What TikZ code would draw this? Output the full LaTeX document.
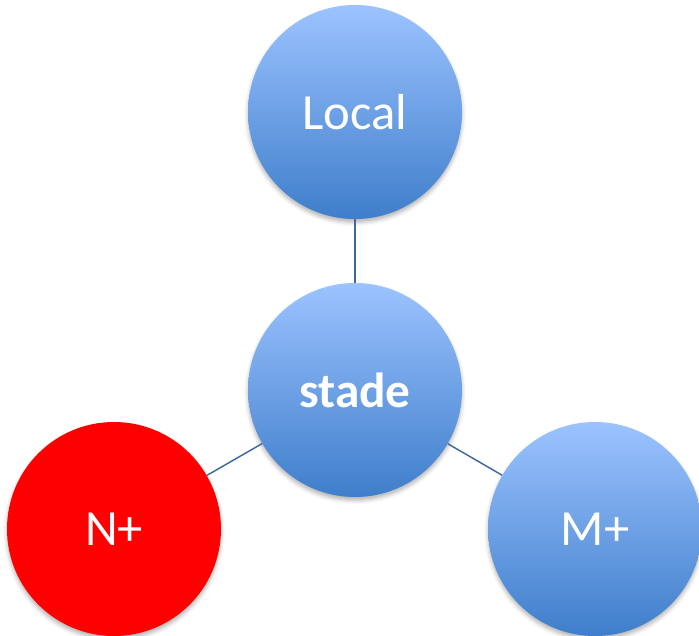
\documentclass[tikz,border=0pt]{standalone}
\usepackage{fontspec}
\setmainfont{Carlito}
\usetikzlibrary{shadows.blur}
\definecolor{bluetop}{HTML}{9CC3FF}
\definecolor{bluebot}{HTML}{3F7ECB}
\definecolor{linkblue}{HTML}{3F699C}
\definecolor{hotred}{HTML}{FF0000}
\tikzset{
  bubble/.style={circle, minimum size=160.5pt, inner sep=0pt, text=white,
    font=\fontsize{38}{41}\selectfont,
    blur shadow={shadow xshift=0pt, shadow yshift=-2.5pt, shadow blur radius=3pt, shadow opacity=30}},
  bluebubble/.style={bubble, top color=bluetop, bottom color=bluebot},
  redbubble/.style={bubble, fill=hotred},
  link/.style={draw=linkblue, line width=1.1pt}
}
\begin{document}
\begin{tikzpicture}[x=0.75pt,y=-0.75pt]
  \useasboundingbox (0,0) rectangle (699,635);
  \node[bluebubble] (local) at (355,112) {Local};
  \node[bluebubble, font=\fontsize{37}{40}\selectfont\bfseries] (stade) at (355,390) {stade};
  \node[redbubble] (n) at (114,529) {N+};
  \node[bluebubble] (m) at (595,529) {M+};
  \draw[link] (local) -- (stade);
  \draw[link] (stade) -- (n);
  \draw[link] (stade) -- (m);
\end{tikzpicture}
\end{document}
